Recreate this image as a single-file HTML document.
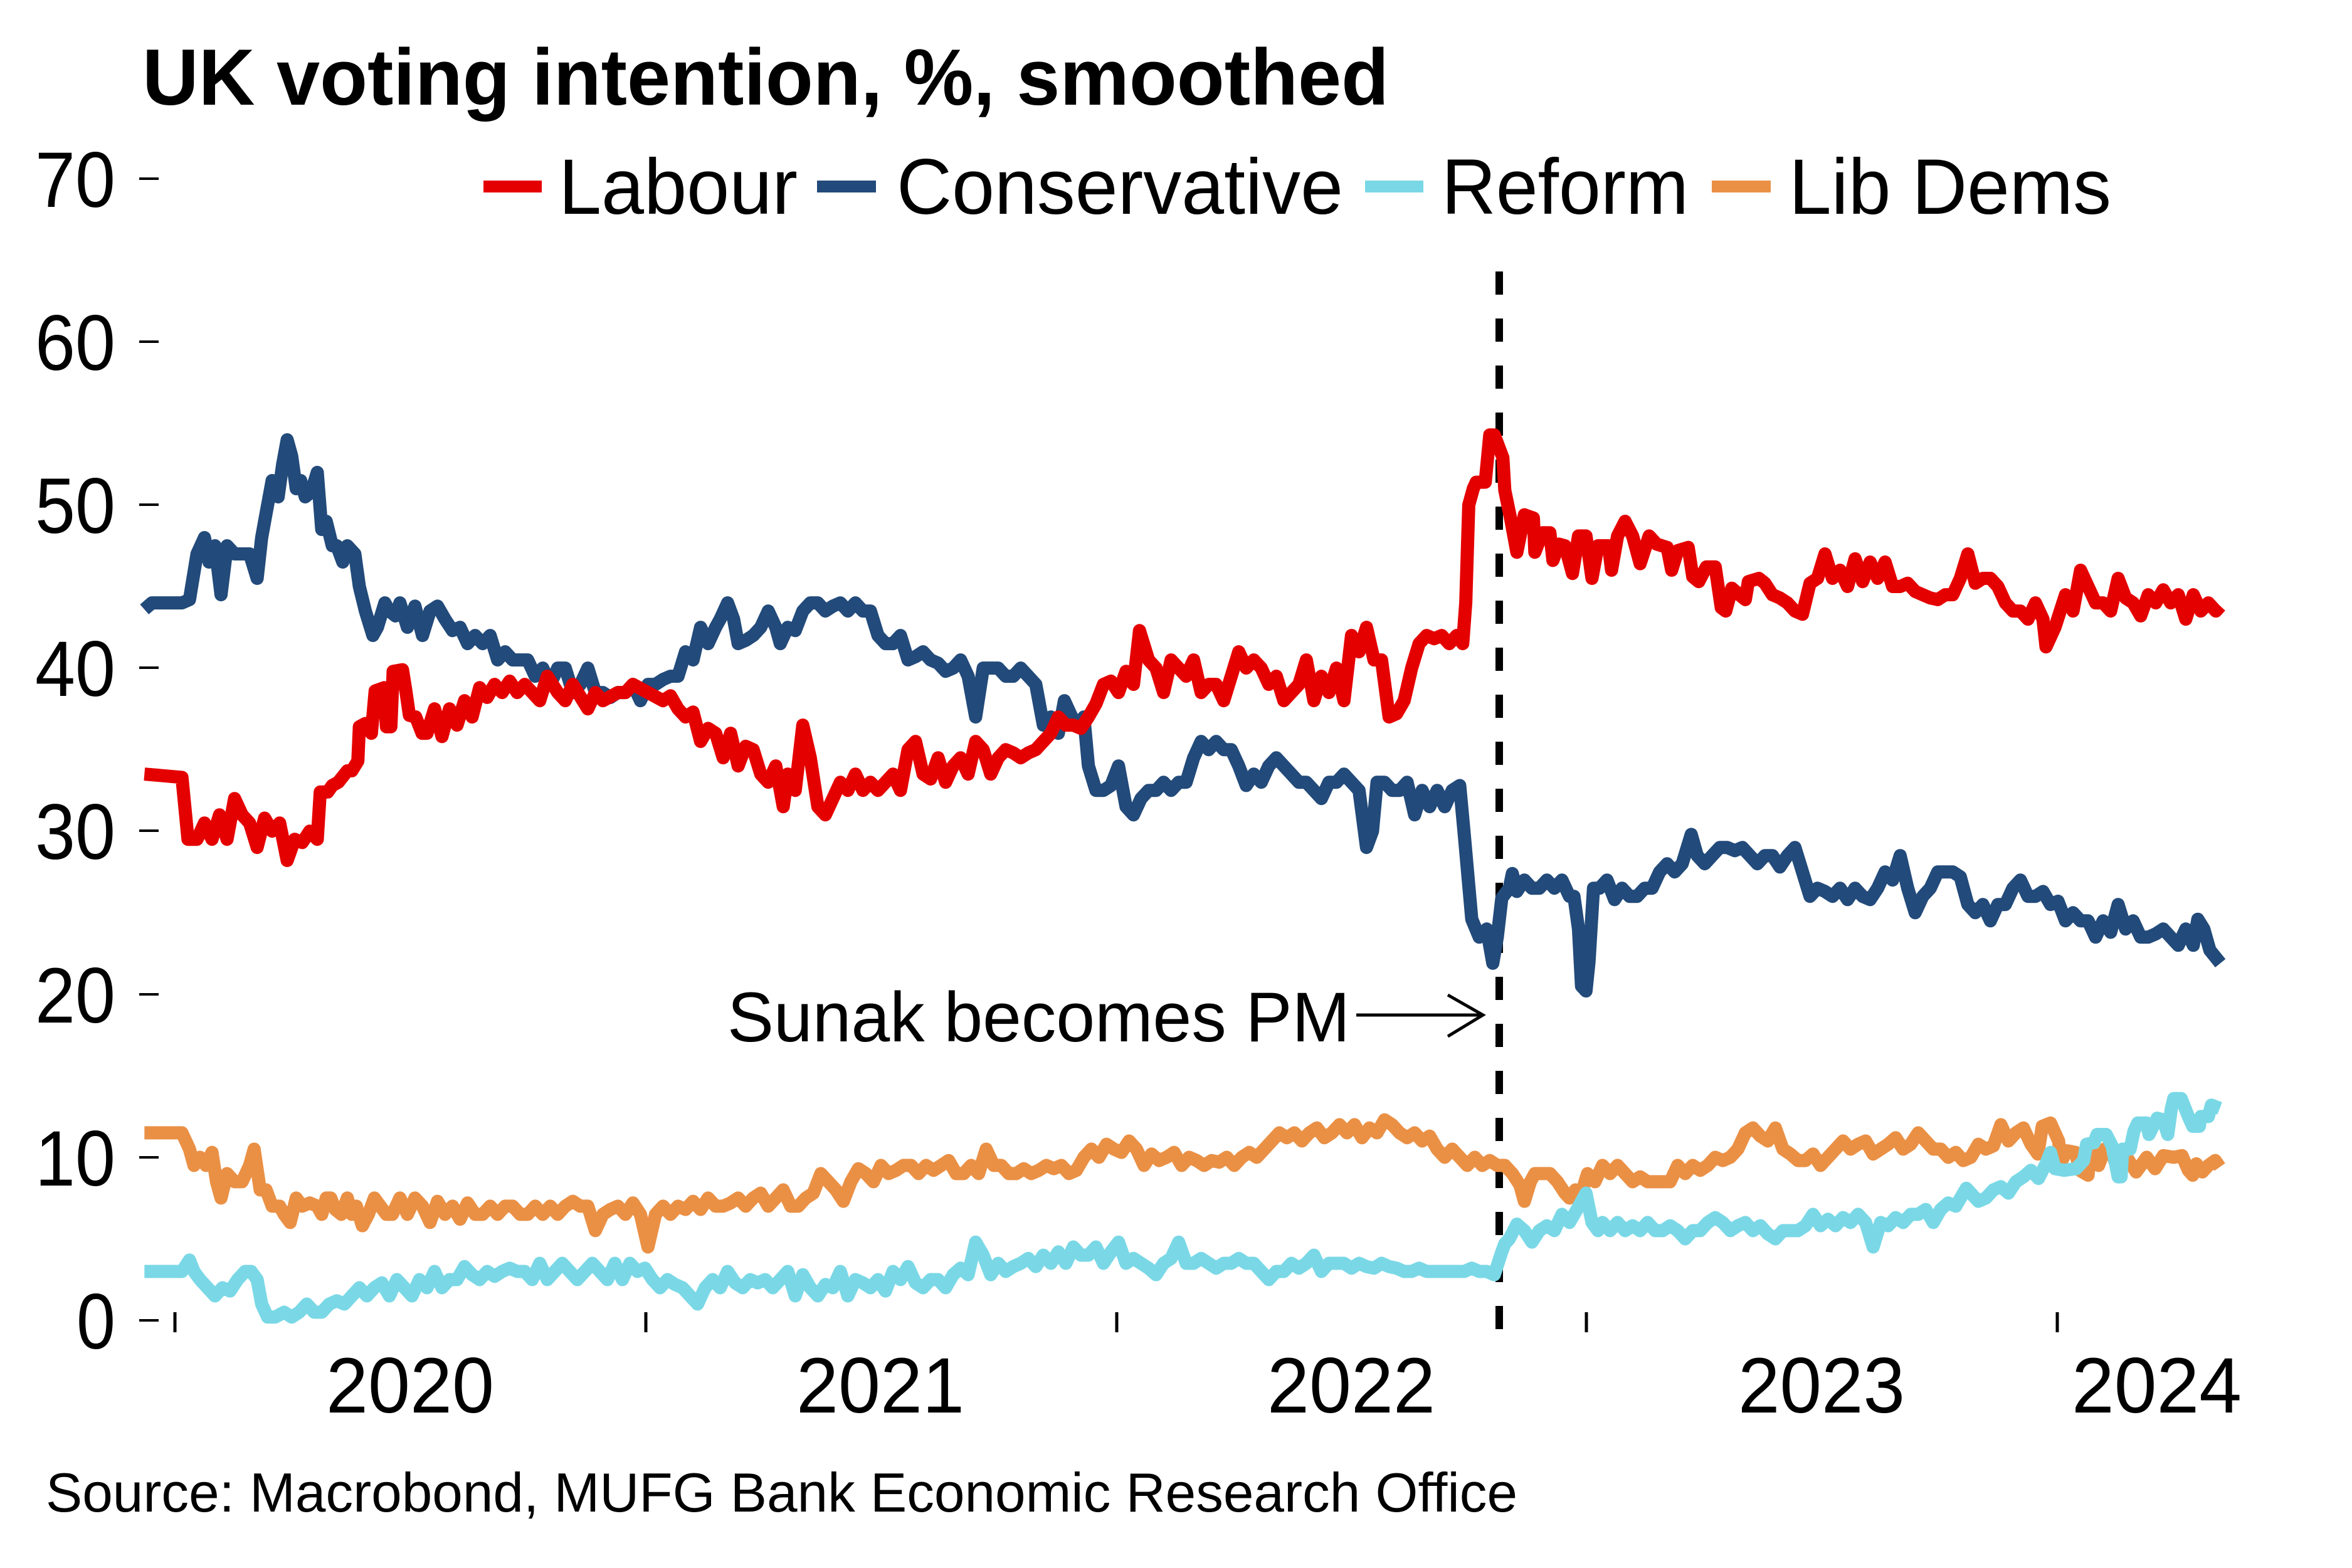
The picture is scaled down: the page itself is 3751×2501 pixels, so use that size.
<!DOCTYPE html>
<html>
<head>
<meta charset="utf-8">
<style>
html,body{margin:0;padding:0;background:#fff;}
svg{display:block;}
text{font-family:"Liberation Sans",Arial,sans-serif;fill:#000;}
</style>
</head>
<body>
<svg width="3751" height="2501" viewBox="0 0 3751 2501" xmlns="http://www.w3.org/2000/svg">
<rect x="0" y="0" width="3751" height="2501" fill="#fff"/>

<!-- Title -->
<text x="227" y="167" font-size="127" font-weight="bold" textLength="1988" lengthAdjust="spacingAndGlyphs">UK voting intention, %, smoothed</text>

<!-- Legend -->
<rect x="771" y="288" width="93" height="19" fill="#E50000"/>
<text x="891" y="341" font-size="125" textLength="381" lengthAdjust="spacingAndGlyphs">Labour</text>
<rect x="1303" y="288" width="94" height="19" fill="#224A7A"/>
<text x="1430" y="341" font-size="125" textLength="712" lengthAdjust="spacingAndGlyphs">Conservative</text>
<rect x="2177" y="288" width="93" height="19" fill="#7AD8E6"/>
<text x="2299" y="341" font-size="125" textLength="394" lengthAdjust="spacingAndGlyphs">Reform</text>
<rect x="2730" y="288" width="94" height="19" fill="#EA9045"/>
<text x="2853" y="341" font-size="125" textLength="514" lengthAdjust="spacingAndGlyphs">Lib Dems</text>

<!-- Y axis ticks & labels -->
<g stroke="#000" stroke-width="4">
<line x1="222" y1="285" x2="253" y2="285"/>
<line x1="222" y1="545" x2="253" y2="545"/>
<line x1="222" y1="805" x2="253" y2="805"/>
<line x1="222" y1="1065" x2="253" y2="1065"/>
<line x1="222" y1="1325" x2="253" y2="1325"/>
<line x1="222" y1="1586" x2="253" y2="1586"/>
<line x1="222" y1="1846" x2="253" y2="1846"/>
<line x1="222" y1="2106" x2="253" y2="2106"/>
</g>
<g font-size="125">
<text x="56" y="330" textLength="128" lengthAdjust="spacingAndGlyphs">70</text>
<text x="56" y="590" textLength="128" lengthAdjust="spacingAndGlyphs">60</text>
<text x="56" y="850" textLength="128" lengthAdjust="spacingAndGlyphs">50</text>
<text x="56" y="1110" textLength="128" lengthAdjust="spacingAndGlyphs">40</text>
<text x="56" y="1370" textLength="128" lengthAdjust="spacingAndGlyphs">30</text>
<text x="56" y="1631" textLength="128" lengthAdjust="spacingAndGlyphs">20</text>
<text x="56" y="1891" textLength="128" lengthAdjust="spacingAndGlyphs">10</text>
<text x="122" y="2151" textLength="62" lengthAdjust="spacingAndGlyphs">0</text>
</g>

<!-- X axis ticks & labels -->
<g stroke="#000" stroke-width="5">
<line x1="279" y1="2093" x2="279" y2="2125"/>
<line x1="1030" y1="2093" x2="1030" y2="2125"/>
<line x1="1781" y1="2093" x2="1781" y2="2125"/>
<line x1="2530" y1="2093" x2="2530" y2="2125"/>
<line x1="3281" y1="2093" x2="3281" y2="2125"/>
</g>
<g font-size="125">
<text x="520" y="2253" textLength="268" lengthAdjust="spacingAndGlyphs">2020</text>
<text x="1270" y="2253" textLength="268" lengthAdjust="spacingAndGlyphs">2021</text>
<text x="2021" y="2253" textLength="268" lengthAdjust="spacingAndGlyphs">2022</text>
<text x="2772" y="2253" textLength="266" lengthAdjust="spacingAndGlyphs">2023</text>
<text x="3304" y="2253" textLength="271" lengthAdjust="spacingAndGlyphs">2024</text>
</g>

<!-- Sunak dashed line (behind series) -->
<line x1="2391" y1="433" x2="2391" y2="2120" stroke="#000" stroke-width="12" stroke-dasharray="37,38"/>

<!-- Series -->
<g id="series" transform="matrix(2.3974 0 0 -26.01 2.5 2106)" fill="none" stroke-linejoin="round" stroke-linecap="butt">
<!-- Lib Dems -->
<polyline class="s" vector-effect="non-scaling-stroke" stroke="#EA9045" stroke-width="21" points="95,11.5 120,11.5 125,10.5 128,9.5 132,10 136,9.5 140,10.3 143,8.5 146,7.5 150,9 155,8.5 160,8.5 165,9.5 168,10.5 172,8 176,8 180,7 185,7 188,6.5 192,6 196,7.5 200,7 205,7.2 210,7 213,6.5 216,7.5 219,7.5 222,6.8 226,6.5 230,7.5 233,6.5 236,7 240,5.8 244,6.5 248,7.5 252,7 256,6.5 260,6.5 265,7.5 270,6.5 275,7.5 280,7 285,6 290,7.3 295,6.5 300,7 305,6.2 310,7.2 315,6.5 320,6.5 325,7 330,6.5 335,7 340,7 345,6.5 350,6.5 355,7 360,6.5 365,7 370,6.5 375,7 380,7.3 385,7 390,7 395,5.5 400,6.5 405,6.8 410,7 415,6.5 420,7.2 425,6.5 430,4.5 435,6.5 440,7 445,6.5 450,7 455,6.8 460,7.3 465,6.8 470,7.5 475,7 480,7 485,7.2 490,7.5 495,7 500,7.5 505,7.8 510,7 515,7.5 520,8 525,7 530,7 535,7.5 540,7.8 545,9 550,8.5 555,8 560,7.3 565,8.5 570,9.3 575,9 580,8.5 585,9.5 590,9 595,9.2 600,9.5 605,9.5 610,9 615,9.5 620,9.2 625,9.5 630,9.8 635,9 640,9 645,9.5 650,9 655,10.5 660,9.5 665,9.5 670,9 675,9 680,9.3 685,9 690,9.2 695,9.5 700,9.3 705,9.5 710,9 715,9.2 720,10 725,10.5 730,10 735,10.8 740,10.5 745,10.3 750,11 755,10.5 760,9.5 765,10.2 770,9.8 775,10 780,10.3 785,9.5 790,10 795,9.8 800,9.5 805,9.8 810,9.7 815,10 820,9.5 825,10 830,10.3 835,10 840,10.5 845,11 850,11.5 855,11.2 860,11.5 865,11 870,11.5 875,11.8 880,11.2 885,11.5 890,12 895,11.5 900,12 905,11.2 910,11.8 915,11.5 920,12.3 925,12 930,11.5 935,11.2 940,11.5 945,11 950,11.3 955,10.5 960,10 965,10.5 970,10 975,9.5 980,10 985,9.5 990,9.8 995,9.5 1000,9.5 1005,9 1010,8.3 1013,7.3 1017,8.5 1020,9 1025,9 1030,9 1035,8.5 1040,7.8 1043,7.5 1047,8 1050,7.5 1055,9 1060,8.5 1065,9.5 1070,9 1075,9.5 1080,9 1085,8.5 1090,8.8 1095,8.5 1100,8.5 1105,8.5 1110,8.5 1115,9.5 1120,9 1125,9.5 1130,9.2 1135,9.5 1140,10 1145,9.8 1150,10 1155,10.5 1160,11.5 1165,11.8 1170,11.3 1175,11 1180,11.8 1185,10.5 1190,10.2 1195,9.8 1200,9.8 1205,10.2 1210,9.5 1215,10 1220,10.5 1225,11 1230,10.5 1235,10.8 1240,11 1245,10.2 1250,10.5 1255,10.8 1260,11.2 1265,10.5 1270,10.8 1275,11.5 1280,11 1285,10.5 1290,10.5 1295,10 1300,10.3 1305,9.8 1310,10 1315,10.8 1320,10.5 1325,10.7 1330,12 1335,11 1340,11.5 1345,11.8 1350,10.8 1354.6,10.2 1357.5,11.9 1363,12.1 1368.4,11 1370,9.7 1374,10.4 1379.6,10.3 1382.5,9.2 1388,8.9 1389,10 1392,10.2 1395,9.5 1399,10.5 1403,10.5 1409,8.9 1413,10.1 1420,9.1 1427,10 1432.6,9.3 1438,10.1 1445,10 1450.5,10.1 1454.7,9.2 1457.6,8.9 1460,9.6 1464,9.1 1468,9.5 1472.6,9.8 1475.6,9.4"/>
<!-- Reform -->
<polyline class="s" vector-effect="non-scaling-stroke" stroke="#7AD8E6" stroke-width="21" points="95,3 120,3 125,3.7 128,3 132,2.5 137,2 142,1.5 147,2 152,1.8 157,2.5 162,3 166,3 170,2.5 173,1 177,0.2 182,0.2 188,0.5 193,0.2 198,0.5 203,1 208,0.5 213,0.5 218,1 223,1.2 228,1 233,1.5 238,2 243,1.5 248,2 253,2.3 258,1.5 263,2.5 268,2 273,1.5 278,2.5 283,2 288,3 293,2 298,2.5 303,2.5 308,3.3 313,2.8 318,2.5 323,3 328,2.7 333,3 338,3.2 343,3 348,3 353,2.5 358,3.5 363,2.5 368,3 373,3.5 378,3 383,2.5 388,3 393,3.5 398,3 403,2.5 408,3.5 413,2.5 418,3.5 423,3 428,3.2 433,2.5 438,2 443,2.5 448,2.2 453,2 458,1.5 463,1 468,2 473,2.5 478,2 483,3 488,2.3 493,2 498,2.5 503,2.3 508,2.5 513,2 518,2.5 523,3 528,1.5 533,2.8 538,2 543,1.5 548,2.2 553,2 558,3 563,1.5 568,2.5 573,2.3 578,2 583,2.5 588,1.8 593,3 598,2.5 603,3.3 608,2.3 613,2 618,2.5 623,2.5 628,2 633,2.8 638,3.2 643,2.8 648,4.8 653,4 658,2.8 663,3.5 668,3 673,3.3 678,3.5 683,3.8 688,3.3 693,4 698,3.5 703,4.2 708,3.5 713,4.5 718,4 723,4 728,4.5 733,3.5 738,4.2 743,4.8 748,3.5 753,3.8 758,3.5 763,3.2 768,2.8 773,3.5 778,3.8 783,4.8 788,3.5 793,3.5 798,3.8 803,3.5 808,3.2 813,3.5 818,3.5 823,3.8 828,3.5 833,3.5 838,3 843,2.5 848,3 853,3 858,3.5 863,3.2 868,3.5 873,4 878,3 883,3.5 888,3.5 893,3.5 898,3.2 903,3.5 908,3.3 913,3.2 918,3.5 923,3.3 928,3.2 933,3 938,3 943,3.2 948,3 953,3 958,3 963,3 968,3 973,3 978,3.2 983,3 988,3 993,2.8 998,4.2 1000,4.7 1003,5 1008,5.9 1013,5.5 1018,4.8 1023,5.5 1028,5.8 1033,5.5 1038,6.5 1043,6 1048,6.8 1054,7.8 1058,6 1062,5.5 1065,6 1070,5.5 1075,6 1080,5.5 1085,5.8 1090,5.5 1095,6 1100,5.5 1105,5.5 1110,5.8 1115,5.5 1120,5 1125,5.5 1130,5.5 1135,6 1140,6.3 1145,6 1150,5.5 1155,5.8 1160,6 1165,5.5 1170,5.8 1175,5.3 1180,5 1185,5.5 1190,5.5 1195,5.5 1200,5.8 1205,6.5 1210,5.8 1215,6.2 1220,5.8 1225,6.3 1230,6 1235,6.5 1240,6 1245,4.5 1250,6 1255,5.8 1260,6.3 1265,6 1270,6.5 1275,6.5 1280,6.8 1285,6 1290,6.8 1295,7.2 1300,7 1307,8.1 1310,7.8 1315,7.3 1320,7.5 1325,8 1330,8.2 1335,7.8 1340,8.5 1345,8.8 1350,9.2 1355,8.7 1360,9.6 1363,10.3 1366,9.3 1372,9.2 1380,9.3 1385,9.8 1387,10.8 1392,10.9 1394,11.4 1400,11.4 1404,10.7 1408,8.8 1410,8.8 1411,10.5 1416,10.5 1418.5,11.6 1421,12.1 1427,12.1 1428.5,11.4 1434,12.4 1438,12.3 1441,11.4 1443.4,13 1445,13.6 1450,13.6 1454.7,12.5 1457.6,11.9 1462,11.9 1463,12.5 1468,12.5 1470,13.2 1475.6,13"/>
<!-- Conservative -->
<polyline class="s" vector-effect="non-scaling-stroke" stroke="#224A7A" stroke-width="21" points="95,43.6 100,44 120,44 125,44.2 130,47 135,48 138,46.5 142,47.5 146,44.5 150,47.5 155,47 160,47 165,47 170,45.5 173,48 176,49.5 180,51.5 184,50.5 187,52.5 190,54 193,53 196,51 199,51.5 202,50.5 206,50.8 210,52 213,48.5 216,49 220,47.5 223,47.5 227,46.5 230,47.5 235,47 238,45 242,43.5 247,42 250,42.5 255,44 258,43.5 262,43.2 265,44 270,42.5 275,43.8 280,42 285,43.5 290,43.8 295,43 300,42.3 305,42.5 310,41.5 315,42 320,41.5 325,42 330,40.5 335,41 340,40.5 345,40.5 350,40.5 355,39.5 360,40 365,39 370,40 375,40 380,38.5 385,39 390,40 395,38.5 400,38.5 405,38.2 410,38.5 415,38.5 420,39 425,38 430,39 435,39 440,39.3 445,39.5 450,39.5 455,41 460,40.5 465,42.5 470,41.5 475,42.5 478,43 483,44 487,43 490,41.5 495,41.7 500,42 505,42.5 510,43.5 515,42.5 518,41.5 523,42.5 528,42.3 533,43.5 538,44 543,44 548,43.5 553,43.8 558,44 563,43.5 568,44 573,43.5 578,43.5 583,42 588,41.5 593,41.5 598,42 603,40.5 608,40.7 613,41 618,40.5 623,40.3 628,39.8 633,40 638,40.5 643,39.5 648,37 653,40 658,40 663,40 668,39.5 673,39.5 678,40 683,39.5 688,39 693,36.5 698,37 703,36 707,38 712,37 717,36.5 720,37 723,34 728,32.5 733,32.5 738,32.8 743,34 748,31.5 753,31 758,32 763,32.5 768,32.5 773,33 778,32.5 783,33 788,33 793,34.5 798,35.5 803,35 808,35.5 813,35 818,35 823,34 828,32.8 833,33.5 838,33 843,34 848,34.5 853,34 858,33.5 863,33 868,33 873,32.5 878,32 883,33 888,33 893,33.5 898,33 903,32.5 908,29 912,30 915,33 920,33 925,32.5 930,32.5 935,33 940,31 945,32.5 950,31.5 955,32.5 960,31.5 965,32.5 970,32.8 973,29.8 978,24.6 983,23.5 988,24 992,21.9 995,23.5 998,25.9 1003,26.5 1005,27.4 1008,26.3 1013,27 1018,26.5 1023,26.5 1028,27 1033,26.5 1038,27 1043,26 1046,26 1049,24 1051,20.5 1054,20.2 1056,22 1059,26.5 1063,26.5 1068,27 1073,25.8 1078,26.5 1083,26 1088,26 1093,26.5 1098,26.5 1103,27.5 1108,28 1113,27.5 1118,28 1124,29.8 1128,28.5 1133,28 1138,28.5 1143,29 1148,29 1153,28.8 1158,29 1163,28.5 1168,28 1173,28.5 1178,28.5 1183,27.8 1188,28.5 1193,29 1198,27.5 1203,26 1208,26.5 1213,26.3 1218,26 1223,26.5 1228,25.8 1233,26.5 1238,26 1243,25.8 1248,26.5 1253,27.5 1258,27 1263,28.5 1268,26.5 1273,25 1278,26 1283,26.5 1288,27.5 1293,27.5 1298,27.5 1303,27.2 1308,25.5 1313,25 1318,25.5 1323,24.5 1328,25.5 1333,25.5 1338,26.5 1343,27 1348,26 1353,26 1358,26.3 1363,25.5 1368,25.7 1373,24.5 1378,25 1383,24.5 1388,24.5 1393,23.5 1398,24.5 1403,23.8 1408,25.5 1413,24 1418,24.5 1423,23.5 1428,23.5 1433,23.7 1438,24 1443,23.5 1448,23 1453,24 1458,23 1461,24.6 1465,24 1469,22.7 1476,21.9"/>
<!-- Labour -->
<polyline class="s" vector-effect="non-scaling-stroke" stroke="#E50000" stroke-width="21" points="95,33.5 120,33.3 124,29.5 130,29.5 135,30.5 140,29.5 145,31 150,29.5 155,32 160,31 165,30.5 170,29 175,30.8 180,30 185,30.5 190,28.2 195,29.5 200,29.3 205,30 210,29.5 212,32.4 217,32.4 220,32.8 224,33 230,33.7 233,33.7 237,34.3 238,36.4 242,36.6 246,36 248.5,38.6 254.7,38.8 256,36.4 259,36.4 260.5,39.8 266.7,39.9 268.8,38.7 271.3,37.1 275.5,37 279.7,36 283,36 288,37.5 293,35.8 298,37.5 303,36.5 308,38 313,37 318,38.8 323,38.2 328,39 333,38.5 338,39.2 343,38.5 348,39 353,38.5 358,38 363,39.5 370,38.5 375,38 380,39 390,37.5 395,38.5 400,38 410,38.5 415,38.5 420,39 430,38.5 440,38 445,38.3 450,37.5 455,37 460,37.3 465,35.5 470,36.3 475,36 480,34.5 485,36 490,34 495,35.2 500,35 505,33.5 510,33 515,34 520,31.5 523,33.5 528,32.5 533,36.5 538,34.5 543,31.5 548,31 553,32 558,33 563,32.5 568,33.5 573,32.5 578,33 583,32.5 588,33 593,33.5 598,32.5 603,35 608,35.5 613,33.5 618,33.2 623,34.5 628,33 633,34 638,34.5 643,33.5 648,35.5 653,35 658,33.5 663,34.5 668,35 673,34.8 678,34.5 683,34.8 688,35 693,35.5 698,36 703,37 708,36.5 713,36.5 718,36.3 723,37 728,37.8 733,39 738,39.2 743,38.5 748,39.8 753,39 757,42.3 763,40.5 768,40 773,38.5 778,40.5 783,40 788,39.5 793,40.5 798,38.5 803,39 808,39 813,38 818,39.5 823,41 828,40 833,40.5 838,40 843,39 848,39.5 853,38 858,38.5 863,39 868,40.5 873,38 878,39.5 883,38.5 888,40 893,38 898,42 903,41 908,42.5 913,40.5 918,40.5 923,37 928,37.2 933,38 938,40 943,41.5 948,42 953,41.8 958,42 963,41.5 968,42 972,41.5 974,44 976,50 979,51 981,51.4 987,51.4 990,54.3 993,54.3 998.7,52.9 1000,50.9 1004,49.1 1008,47.1 1013,49.4 1016,49.3 1019,49.2 1020,47.1 1025,48.3 1030,48.3 1032,46.6 1036,47.6 1040,47.5 1045,45.8 1049,48.1 1054,48.1 1058,45.5 1062,47.5 1069,47.5 1071,46 1075,48.1 1080,49 1085,48.1 1090,46.4 1096,48.1 1101,47.6 1108,47.4 1111,46 1115,47.2 1122,47.4 1125,45.6 1129,45.3 1134,46.2 1140,46.2 1144,43.7 1147,43.5 1151,44.9 1156,44.5 1160,44.2 1162,45.3 1169,45.5 1173,45.2 1178,44.5 1183,44.3 1188,44 1193,43.5 1198,43.3 1203,45.2 1208,45.5 1213,47 1218,45.5 1223,46 1228,45 1233,46.7 1238,45.3 1243,46.5 1248,45.5 1253,46.5 1258,45 1263,45 1268,45.2 1273,44.7 1278,44.5 1283,44.3 1288,44.2 1293,44.5 1298,44.5 1303,45.5 1308,47 1313,45.2 1318,45.5 1323,45.5 1328,45 1333,44 1338,43.5 1343,43.5 1348,43 1353,44 1358,43 1360,41.3 1366,42.5 1373,44.5 1378,43.5 1383,46 1388,45 1393,44 1398,44 1403,43.5 1408,45.5 1413,44.3 1418,44 1423,43.2 1428,44.5 1433,44 1438,44.8 1443,44 1448,44.5 1453,43 1458,44.5 1463,43.5 1468,44 1473,43.5 1476,43.8"/>
</g>

<!-- Annotation -->
<text x="1160" y="1661" font-size="112" textLength="993" lengthAdjust="spacingAndGlyphs">Sunak becomes PM</text>
<g stroke="#000" stroke-width="5" fill="none">
<line x1="2163" y1="1619" x2="2364" y2="1619"/>
<polyline points="2309,1587 2365,1619 2309,1653"/>
</g>

<!-- Source -->
<text x="73" y="2411" font-size="88" textLength="2347" lengthAdjust="spacingAndGlyphs">Source: Macrobond, MUFG Bank Economic Research Office</text>
</svg>
<script>
(function(){
  var g=document.getElementById('series');
  var ps=document.querySelectorAll('polyline.s');
  for(var i=0;i<ps.length;i++){
    var p=ps[i];
    var raw=p.getAttribute('points').trim().split(/\s+/);
    var out=[];
    for(var j=0;j<raw.length;j++){
      var a=raw[j].split(',');
      var x=2.3974*parseFloat(a[0])+2.5;
      var y=2106-26.01*parseFloat(a[1]);
      out.push(x.toFixed(1)+','+y.toFixed(1));
    }
    p.setAttribute('points',out.join(' '));
    p.removeAttribute('vector-effect');
  }
  g.removeAttribute('transform');
})();
</script>
</body>
</html>
